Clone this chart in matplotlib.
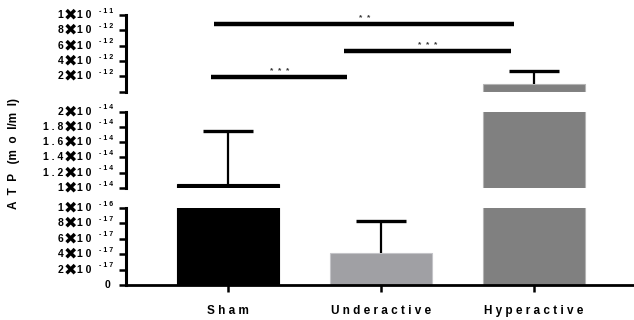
import matplotlib
matplotlib.use("Agg")
import matplotlib.pyplot as plt

# ============================================================
# Data
# ============================================================
categories = ["Sham", "Underactive", "Hyperactive"]
means = [1.05e-14, 4.15e-17, 1.0e-12]
sem = [0.70e-14, 4.15e-17, 1.66e-12]
bar_colors = ["#000000", "#a0a0a4", "#808080"]
edge_colors = ["#000000", "#c4c4c8", "#b4b4b4"]

# significance brackets: (group a, group b), label, height (top segment)
sig_pairs = [(0, 2), (1, 2), (0, 1)]
sig_labels = ["*  *", "*  *  *", "*  *  *"]
sig_heights = [8.8e-12, 5.3e-12, 1.9e-12]
sig_start_off = [-0.09, -0.24, -0.11]
sig_end_off = [-0.13, -0.15, -0.22]

# broken axis segments: ticks and (mantissa, exponent) for labels
bottom_ticks = [0, 2e-17, 4e-17, 6e-17, 8e-17, 1e-16]
bottom_mant = ["0", "2", "4", "6", "8", "1"]
bottom_exp = [None, "-17", "-17", "-17", "-17", "-16"]
middle_ticks = [1e-14, 1.2e-14, 1.4e-14, 1.6e-14, 1.8e-14, 2e-14]
middle_mant = ["1", "1.2", "1.4", "1.6", "1.8", "2"]
middle_exp = ["-14", "-14", "-14", "-14", "-14", "-14"]
top_ticks = [0, 2e-12, 4e-12, 6e-12, 8e-12, 1e-11]
top_mant = ["", "2", "4", "6", "8", "1"]
top_exp = [None, "-12", "-12", "-12", "-12", "-11"]

# ============================================================
plt.rcParams["font.family"] = ["Liberation Sans", "DejaVu Sans"]
plt.rcParams["font.weight"] = "bold"

PX = 0.72  # points per pixel at 100 dpi


def draw_label(ax, y, mant, expo):
    tr = ax.get_yaxis_transform()
    kw = dict(xy=(0, y), xycoords=tr, textcoords="offset points",
              va="center", fontweight="bold", annotation_clip=False)
    if expo is None:
        if mant:
            ax.annotate(mant, xytext=(-16 * PX, 0), ha="right", fontsize=7.5,
                        **kw)
        return
    ax.annotate(" ".join(mant), xytext=(-63 * PX, 0), ha="right",
                fontsize=7.5, **kw)
    ax.annotate("✖", xytext=(-55.5 * PX, 0), ha="center", fontsize=11.5,
                family="DejaVu Sans", **kw)
    ax.annotate("1 0", xytext=(-49 * PX, 0), ha="left", fontsize=7.5, **kw)
    ax.annotate(" ".join(expo), xytext=(-27 * PX, 4 * PX), ha="left",
                fontsize=5, **kw)


fig = plt.figure(figsize=(6.34, 3.2), dpi=100)

left, width = 0.199, 0.801
ax_bot = fig.add_axes([left, 0.109, width, 0.241])
ax_mid = fig.add_axes([left, 0.4125, width, 0.2385])
ax_top = fig.add_axes([left, 0.7134, width, 0.2396])

segments = [
    (ax_bot, (0, 1e-16), bottom_ticks, bottom_mant, bottom_exp),
    (ax_mid, (1e-14, 2e-14), middle_ticks, middle_mant, middle_exp),
    (ax_top, (0, 1e-11), top_ticks, top_mant, top_exp),
]

x = list(range(len(categories)))
for ax, ylim, ticks, mant, expo in segments:
    lo, hi = ylim
    span = hi - lo
    # bars too small to show in this segment are left out (as in the original)
    show = [m > lo + 0.005 * span for m in means]
    xs = [xi for xi, s in zip(x, show) if s]
    ax.bar(xs, [m for m, s in zip(means, show) if s], width=0.667,
           color=[c for c, s in zip(bar_colors, show) if s],
           edgecolor=[c for c, s in zip(edge_colors, show) if s],
           linewidth=0.8, zorder=2)
    _, caps, _ = ax.errorbar(xs, [m for m, s in zip(means, show) if s],
                             yerr=[[0] * len(xs),
                                   [e for e, s in zip(sem, show) if s]],
                             fmt="none", ecolor="black", elinewidth=1.6,
                             capsize=18, capthick=2.4, zorder=3)
    if caps:
        caps[0].set_visible(False)  # only the upper cap
    ax.set_ylim(lo, hi)
    ax.set_xlim(-0.667, 2.654)
    ax.set_yticks(ticks)
    ax.set_yticklabels([])
    for t, m, e in zip(ticks, mant, expo):
        draw_label(ax, t, m, e)
    for s in ["top", "right", "bottom"]:
        ax.spines[s].set_visible(False)
    ax.spines["left"].set_linewidth(2.2)
    ax.tick_params(axis="y", length=5, width=1.8, pad=3)
    ax.set_xticks([])
    ax.set_facecolor("none")

ax_bot.spines["bottom"].set_visible(True)
ax_bot.spines["bottom"].set_linewidth(2.0)
ax_bot.set_xticks(x)
ax_bot.set_xticklabels([" ".join(c) for c in categories], fontsize=8.5,
                       fontweight="bold")
ax_bot.tick_params(axis="x", length=5, width=1.8, pad=9)

# significance bars
for (a, b), lab, h, s0, e0 in zip(sig_pairs, sig_labels, sig_heights,
                                  sig_start_off, sig_end_off):
    x0, x1 = a + s0, b + e0
    ax_top.plot([x0, x1], [h, h], color="black", linewidth=3.2,
                solid_capstyle="butt", clip_on=False, zorder=4)
    ax_top.text((x0 + x1) / 2, h + 0.3e-12, lab, ha="center", va="bottom",
                fontsize=6, color="#333333", clip_on=False)

fig.text(0.022, 0.52, "A  T  P   (m  o  l/m  l)", rotation=90, ha="center",
         va="center", fontsize=8.5, fontweight="bold")

fig.savefig("out.png", dpi=100)
